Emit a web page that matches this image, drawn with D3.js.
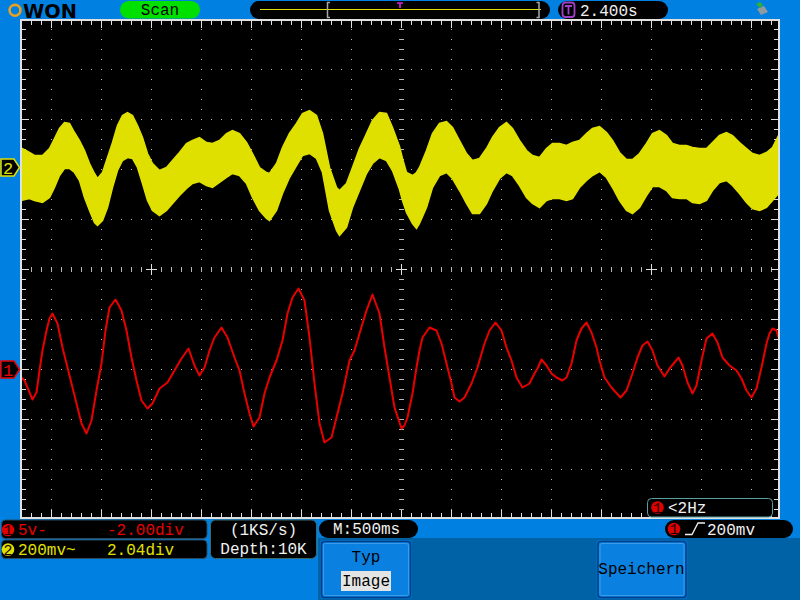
<!DOCTYPE html>
<html><head><meta charset="utf-8">
<script src="https://cdn.jsdelivr.net/npm/d3@7"></script>
<style>html,body{margin:0;padding:0;background:#0080E0;overflow:hidden}</style>
</head><body>
<svg id="c" width="800" height="600"></svg>
<script>
// ---------------- DATA ----------------
// Channel 1 (red), time in ms relative to trigger, value in volts
const ch1Time = [-3810,-3770,-3740,-3690,-3650,-3620,-3590,-3550,-3520,-3490,
-3440,-3390,-3340,-3300,-3250,-3200,-3150,-3100,-3050,-3000,
-2960,-2920,-2860,-2800,-2750,-2700,-2650,-2600,-2540,-2490,
-2420,-2340,-2270,-2200,-2130,-2070,-2020,-1970,-1920,-1870,
-1800,-1740,-1670,-1620,-1570,-1520,-1480,-1420,-1370,-1320,
-1250,-1190,-1140,-1090,-1030,-970,-920,-870,-820,-770,
-700,-650,-590,-520,-470,-420,-350,-290,-220,-170,
-120,-70,0,30,60,110,150,180,210,280,
350,400,450,500,530,580,630,700,760,830,
880,940,1000,1050,1100,1150,1210,1280,1330,1360,
1400,1450,1500,1550,1610,1650,1700,1750,1800,1850,
1900,1950,1980,2030,2100,2190,2250,2310,2360,2410,
2460,2510,2560,2630,2680,2730,2770,2810,2860,2910,
2950,3000,3050,3110,3160,3210,3280,3350,3400,3450,
3500,3550,3600,3650,3680,3710,3750,3770];
const ch1Volt = [-0.7,-1.1,-1.8,-3.0,-2.3,-0.1,1.9,3.9,5.1,5.6,
4.6,2.2,0.2,-1.4,-3.4,-5.4,-6.4,-5.1,-2.1,0.6,
3.9,6.2,7.0,5.9,3.9,1.2,-1.1,-3.1,-3.9,-3.4,
-1.9,-1.3,-0.1,1.1,2.1,0.4,-0.6,0.2,1.9,3.2,
4.2,3.2,1.2,-0.1,-2.4,-4.4,-5.7,-4.8,-2.4,-0.8,
0.9,2.9,5.6,7.2,8.1,6.9,3.2,-1.4,-5.4,-7.3,
-6.8,-4.8,-2.4,0.9,1.9,3.6,5.9,7.5,5.6,2.2,
-0.8,-3.8,-5.9,-5.6,-4.8,-2.4,0.2,1.9,3.2,4.2,
3.9,2.6,0.6,-1.4,-2.8,-3.2,-2.8,-1.4,0.2,2.6,
3.9,4.7,3.9,2.2,0.9,-0.8,-1.8,-1.4,-0.4,0.1,
1.0,0.4,-0.4,-0.8,-1.1,-0.8,0.6,2.9,4.1,4.7,
3.7,2.2,0.9,-0.8,-1.8,-2.8,-2.1,-0.4,1.2,2.4,
2.8,1.9,0.4,-0.7,0.1,0.7,1.2,0.4,-1.3,-2.4,
-1.6,0.9,3.1,3.6,2.7,1.2,0.4,-0.1,-0.9,-2.1,
-2.8,-1.9,0.2,2.6,3.6,4.1,3.9,3.2];

// Channel 2 (yellow), envelope of the signal, time in ms, values in mV
const ch2Time = [-3810,-3720,-3670,-3590,-3520,-3470,-3420,-3370,-3320,-3270,
-3220,-3170,-3120,-3070,-3040,-2990,-2940,-2890,-2840,-2790,
-2740,-2690,-2640,-2590,-2540,-2490,-2420,-2350,-2290,-2220,
-2150,-2090,-2020,-1950,-1890,-1820,-1750,-1690,-1620,-1550,
-1490,-1420,-1350,-1320,-1250,-1190,-1120,-1050,-990,-920,
-850,-790,-720,-650,-620,-550,-490,-420,-350,-290,
-220,-150,-90,-20,10,50,110,150,180,250,
310,380,450,510,580,650,710,780,850,910,
980,1050,1110,1180,1250,1310,1380,1450,1510,1580,
1650,1710,1780,1850,1910,1980,2050,2110,2180,2250,
2310,2380,2450,2510,2580,2650,2710,2780,2850,2910,
2980,3050,3110,3180,3250,3310,3380,3450,3510,3580,
3650,3710,3770];
const ch2Upper = [80,60,48,48,76,116,156,180,176,140,
108,68,16,-24,-44,-20,40,100,168,208,
220,208,168,120,56,16,-12,0,28,60,
96,108,120,100,96,108,136,148,136,100,
56,0,-20,-24,16,80,136,176,216,228,
208,136,0,-80,-92,-64,0,76,136,188,
220,216,160,84,36,-20,-32,-20,0,68,
136,176,184,160,108,56,28,36,76,120,
160,180,156,108,68,48,40,76,96,96,
88,100,108,136,156,164,140,108,60,32,
32,56,96,136,148,128,96,88,88,80,
76,76,100,128,140,128,100,76,56,48,
60,80,128];
const ch2Lower = [-132,-124,-132,-140,-120,-80,-32,-4,-4,-20,
-52,-120,-172,-220,-232,-212,-160,-80,-12,28,
40,36,0,-64,-132,-172,-192,-172,-144,-112,
-84,-64,-56,-72,-80,-60,-40,-24,-32,-64,
-120,-172,-204,-212,-172,-104,-40,8,48,56,
36,-20,-172,-252,-272,-240,-160,-92,-24,16,
40,28,-12,-88,-132,-180,-224,-244,-224,-160,
-80,-32,-20,-44,-92,-144,-184,-184,-144,-92,
-44,-20,-32,-72,-120,-144,-160,-132,-124,-124,
-132,-124,-80,-52,-32,-16,-40,-80,-132,-172,
-184,-160,-112,-76,-76,-92,-120,-124,-124,-140,
-144,-132,-92,-60,-52,-72,-104,-140,-164,-172,
-160,-132,-104];

// Settings / labels
const ch1Label = ["5v-", "-2.00div"];
const ch2Label = ["200mv~", "2.04div"];
const ch1Offset = -2.00, ch2Offset = 2.04;   // divisions
const ch1PerDiv = 5, ch2PerDiv = 200;        // V/div, mV/div
const msPerDiv = 500;
const sampleInfo = ["(1KS/s)", "Depth:10K"];
const timebase = "M:500ms";
const trigLevel = "200mv";
const freqText = "<2Hz";
const trigTime = "2.400s";
const modeText = "Scan";
const menuTitle = "Typ", menuValue = "Image", saveText = "Speichern";

// ---------------- DRAWING ----------------
const svg = d3.select("#c");
const BLUE = "#0080E0", DARKBLUE = "#0062A6", YEL = "#E0E000", RED = "#E80000";
const MONO = "'Liberation Mono', 'DejaVu Sans Mono', monospace";

svg.append("rect").attr("width", 800).attr("height", 600).attr("fill", BLUE);
svg.append("rect").attr("x", 318).attr("y", 538).attr("width", 482).attr("height", 62).attr("fill", DARKBLUE);

const L = 20, R = 780, T = 19, B = 519;
svg.append("rect").attr("x", L).attr("y", T).attr("width", R - L).attr("height", B - T).attr("fill", "#000");

// scales
const x = d3.scaleLinear().domain([-3815, 3775]).range([20, 779]);        // ms -> px (0 at 401.5)
const yDiv = d3.scaleLinear().domain([-5, 5]).range([519.5, 19.5]);       // divisions
const y1 = v => yDiv(v / ch1PerDiv + ch1Offset);
const y2 = v => yDiv(v / ch2PerDiv + ch2Offset);

// grid dots
const g = svg.append("g").attr("shape-rendering", "crispEdges");
const DOT = "#B8B8B8";
const vLines = d3.range(-3500, 3501, msPerDiv).filter(t => t !== 0).map(t => x(t));
const hLines = [-4, -3, -2, -1, 1, 2, 3, 4].map(d => yDiv(d));
const ySteps = d3.range(0, 51).map(j => yDiv(-5) - 10 * j).filter(v => v > 21 && v < 517);
const xSteps = d3.range(0, 77).map(i => 21.5 + 10 * i).filter(v => v > 22 && v < 777);
vLines.forEach(xx => ySteps.forEach(yy => {
  g.append("rect").attr("x", Math.floor(xx)).attr("y", Math.floor(yy)).attr("width", 1).attr("height", 1).attr("fill", DOT);
}));
hLines.forEach(yy => xSteps.forEach(xx => {
  g.append("rect").attr("x", Math.floor(xx)).attr("y", Math.floor(yy)).attr("width", 1).attr("height", 1).attr("fill", DOT);
}));
// center axes ticks
const cx = Math.floor(x(0)), cy = Math.floor(yDiv(0));
xSteps.forEach(xx => g.append("rect").attr("x", Math.floor(xx)).attr("y", cy - 2).attr("width", 1).attr("height", 5).attr("fill", DOT));
ySteps.forEach(yy => g.append("rect").attr("x", cx - 2).attr("y", Math.floor(yy)).attr("width", 5).attr("height", 1).attr("fill", DOT));
[-2500, 0, 2500].forEach(t => {
  const px = Math.floor(x(t));
  g.append("rect").attr("x", px - 5).attr("y", cy).attr("width", 11).attr("height", 1).attr("fill", "#E0E0E0");
  g.append("rect").attr("x", px).attr("y", cy - 5).attr("width", 1).attr("height", 11).attr("fill", "#E0E0E0");
});
// edge ticks
const EDGE = "#E0E0E0";
ySteps.concat([]).forEach(yy => {
  const long = hLines.some(h => Math.abs(h - yy) < 1) || Math.abs(yDiv(0) - yy) < 1;
  const len = long ? 7 : 4;
  g.append("rect").attr("x", 22).attr("y", Math.floor(yy)).attr("width", len).attr("height", 1).attr("fill", EDGE);
  g.append("rect").attr("x", 778 - len).attr("y", Math.floor(yy)).attr("width", len).attr("height", 1).attr("fill", EDGE);
});
xSteps.forEach(xx => {
  const long = vLines.some(v => Math.abs(v - xx) < 1) || Math.abs(x(0) - xx) < 1;
  const len = long ? 7 : 4;
  g.append("rect").attr("x", Math.floor(xx)).attr("y", 21).attr("width", 1).attr("height", len).attr("fill", EDGE);
  g.append("rect").attr("x", Math.floor(xx)).attr("y", 517 - len).attr("width", 1).attr("height", len).attr("fill", EDGE);
});

// clip
svg.append("clipPath").attr("id", "plotclip").append("rect").attr("x", 22).attr("y", 21).attr("width", 756).attr("height", 496);

// channel 2 band
const ch2 = ch2Time.map((t, i) => ({ t, hi: ch2Upper[i], lo: ch2Lower[i] }));
const area = d3.area().x(d => x(d.t)).y0(d => y2(d.lo)).y1(d => y2(d.hi)).curve(d3.curveLinear);
svg.append("path").datum(ch2).attr("clip-path", "url(#plotclip)")
  .attr("d", area).attr("fill", YEL).attr("stroke", YEL).attr("stroke-width", 1.5);

// channel 1 line
const ch1 = ch1Time.map((t, i) => ({ t, v: ch1Volt[i] }));
const line = d3.line().x(d => x(d.t)).y(d => y1(d.v)).curve(d3.curveLinear);
svg.append("path").datum(ch1).attr("clip-path", "url(#plotclip)")
  .attr("d", line).attr("fill", "none").attr("stroke", RED).attr("stroke-width", 2).attr("stroke-linejoin", "round");

// frame
const fr = svg.append("g").attr("fill", EDGE).attr("shape-rendering", "crispEdges");
fr.append("rect").attr("x", 20).attr("y", 19).attr("width", 2).attr("height", 500);
fr.append("rect").attr("x", 778).attr("y", 19).attr("width", 2).attr("height", 500);
fr.append("rect").attr("x", 20).attr("y", 19).attr("width", 760).attr("height", 2);
fr.append("rect").attr("x", 20).attr("y", 517).attr("width", 760).attr("height", 2);

// channel markers
function marker(yc, col, label) {
  svg.append("path").attr("d", `M1,${yc - 8.5} H14 L19.5,${yc} L14,${yc + 8.5} H1 Z`)
    .attr("fill", "#000").attr("stroke", col).attr("stroke-width", 1.5);
  svg.append("text").attr("x", 8).attr("y", yc + 6).attr("text-anchor", "middle")
    .attr("font-family", MONO).attr("font-size", 17).attr("fill", col).text(label);
}
marker(y2(0), YEL, "2");
marker(y1(0), RED, "1");

// ---------- top bar ----------
svg.append("circle").attr("cx", 15).attr("cy", 10.3).attr("r", 5.4).attr("fill", "none").attr("stroke", "#E8A020").attr("stroke-width", 2.6);
svg.append("text").attr("x", 23).attr("y", 17.5).attr("font-family", "'DejaVu Sans', sans-serif").attr("font-weight", "bold")
  .attr("font-size", 19.5).attr("textLength", 54).attr("lengthAdjust", "spacingAndGlyphs").attr("fill", "#000").text("WON");

svg.append("rect").attr("x", 120).attr("y", 1).attr("width", 80).attr("height", 17.5).attr("rx", 8.7).attr("fill", "#00E000");
svg.append("text").attr("x", 160).attr("y", 15).attr("text-anchor", "middle").attr("font-family", MONO).attr("font-size", 16).attr("fill", "#000").text(modeText);

svg.append("rect").attr("x", 250).attr("y", 1).attr("width", 300).attr("height", 18).attr("rx", 9).attr("fill", "#000");
svg.append("rect").attr("x", 260).attr("y", 9).attr("width", 281).attr("height", 1).attr("fill", YEL);
svg.append("path").attr("d", "M330,2.5 H327.5 V17.5 H330").attr("fill", "none").attr("stroke", "#A8A8A8").attr("stroke-width", 1.5);
svg.append("path").attr("d", "M536.5,2.5 H539 V17.5 H536.5").attr("fill", "none").attr("stroke", "#A8A8A8").attr("stroke-width", 1.5);
svg.append("path").attr("d", "M397,3 H403 M400,3 V8").attr("stroke", "#E020E0").attr("stroke-width", 1.6);

svg.append("rect").attr("x", 558).attr("y", 1).attr("width", 110).attr("height", 18).attr("rx", 9).attr("fill", "#000");
svg.append("rect").attr("x", 562.5).attr("y", 2.5).attr("width", 12).attr("height", 14.5).attr("rx", 3).attr("fill", "#000").attr("stroke", "#A040C8").attr("stroke-width", 1.8);
svg.append("path").attr("d", "M565,6 H572 M568.5,6 V14.5").attr("stroke", "#A040C8").attr("stroke-width", 1.8);
svg.append("text").attr("x", 580).attr("y", 16).attr("font-family", MONO).attr("font-size", 16).attr("fill", "#F0F0F0").text(trigTime);

// small status icon
svg.append("path").attr("d", "M757,9 L764,6 L768,12 L761,15 Z").attr("fill", "#9098A0");
svg.append("path").attr("d", "M756,4 L760,2 L763,5 L760,8 Z").attr("fill", "#30B030");

// ---------- bottom ----------
function box(xx, yy, w, h, rx, stroke) {
  svg.append("rect").attr("x", xx).attr("y", yy).attr("width", w).attr("height", h).attr("rx", rx)
    .attr("fill", "#000").attr("stroke", stroke || "#2A4A60").attr("stroke-width", 1);
}
function badge(cx0, cy0, col, num) {
  svg.append("circle").attr("cx", cx0).attr("cy", cy0).attr("r", 6.3).attr("fill", col);
  svg.append("text").attr("x", cx0).attr("y", cy0 + 5).attr("text-anchor", "middle").attr("font-family", MONO)
    .attr("font-size", 15).attr("fill", "#200000").text(num);
}
function txt(xx, yy, s, col, anchor) {
  svg.append("text").attr("x", xx).attr("y", yy).attr("text-anchor", anchor || "start").attr("font-family", MONO)
    .attr("font-size", 16).attr("fill", col).text(s);
}
box(1.5, 520, 205.5, 18.5, 4);
box(1.5, 540, 205.5, 18.5, 4);
badge(8, 530, "#E00000", "1");
txt(18, 535, ch1Label[0], RED);
txt(107, 535, ch1Label[1], RED);
badge(8, 549.5, "#E0E000", "2");
txt(18, 555, ch2Label[0], YEL);
txt(107, 555, ch2Label[1], YEL);

box(210.5, 520, 106, 38.5, 5, "#3A6A70");
txt(263.5, 535, sampleInfo[0], "#F0F0F0", "middle");
txt(263.5, 554, sampleInfo[1], "#F0F0F0", "middle");

svg.append("rect").attr("x", 319).attr("y", 520).attr("width", 99).attr("height", 18).attr("rx", 9).attr("fill", "#000");
txt(333, 534, timebase, "#F0F0F0");

svg.append("rect").attr("x", 665).attr("y", 520).attr("width", 128).attr("height", 18).attr("rx", 9).attr("fill", "#000");
badge(674, 529, "#E00000", "1");
svg.append("path").attr("d", "M685,534.5 H692 L698,523 H705").attr("fill", "none").attr("stroke", "#F0F0F0").attr("stroke-width", 1.3);
txt(707, 535, trigLevel, "#F0F0F0");

box(647.5, 498.5, 125, 18.5, 4, "#5AA0A0");
badge(657.5, 507.5, "#E00000", "1");
txt(668, 513, freqText, "#F0F0F0");

// buttons
function button(xx, yy, w, h) {
  svg.append("rect").attr("x", xx).attr("y", yy).attr("width", w).attr("height", h).attr("rx", 3).attr("fill", "#0070C8");
  svg.append("rect").attr("x", xx + 1.5).attr("y", yy + 1.5).attr("width", w - 3).attr("height", h - 3).attr("rx", 3)
    .attr("fill", "#0A80E0").attr("stroke", "#003E88").attr("stroke-width", 1.5);
  svg.append("rect").attr("x", xx + 3.5).attr("y", yy + 3.5).attr("width", w - 7).attr("height", h - 7).attr("rx", 2)
    .attr("fill", "none").attr("stroke", "#3A9CE8").attr("stroke-width", 1);
}
button(320, 540, 92, 59);
txt(366, 562, menuTitle, "#000", "middle");
svg.append("rect").attr("x", 341).attr("y", 571).attr("width", 50).attr("height", 20).attr("fill", "#E4E4E4");
txt(366, 586, menuValue, "#000", "middle");

button(596.5, 540, 91, 59);
txt(641.5, 574, saveText, "#000", "middle");
</script>
</body></html>
